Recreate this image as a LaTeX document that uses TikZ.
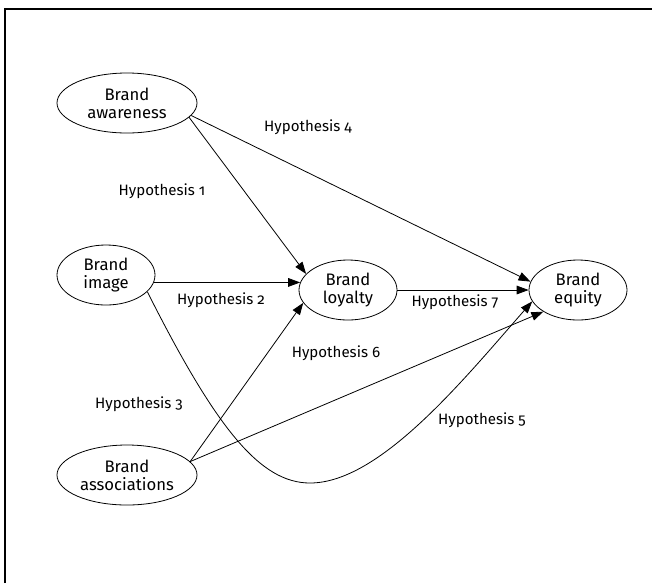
\documentclass[tikz,border=0pt]{standalone}
\usepackage{fontspec}
\setmainfont{Fira Sans}[Numbers=OldStyle]
\usetikzlibrary{shapes.geometric,arrows.meta}
\begin{document}
\begin{tikzpicture}[x=0.75pt,y=-0.75pt,
  construct/.style={draw,ellipse,line width=0.6pt,inner sep=0pt,minimum height=45pt,
    align=center,font=\fontsize{12.5}{13.3}\selectfont},
  wide/.style={construct,minimum width=105pt},
  narrow/.style={construct,minimum width=73.5pt},
  hyp/.style={font=\fontsize{11.3}{13}\selectfont,inner sep=0pt},
  link/.style={line width=0.6pt,-{Triangle[length=9pt,width=6.5pt]}},
  frameline/.style={line width=0.8pt}]
\useasboundingbox (0,0) rectangle (652,583);
\draw[frameline] (5,583) -- (5,9) -- (652,9);

\node[wide]   (aw) at (127,103) {Brand\\awareness};
\node[narrow] (im) at (106,275) {Brand\\image};
\node[narrow] (lo) at (348,290) {Brand\\loyalty};
\node[narrow] (eq) at (578,290) {Brand\\equity};
\node[wide]   (as) at (127,475) {Brand\\associations};

\node[hyp] (h4) at (308,127) {Hypothesis 4};
\node[hyp] (h1) at (162,191) {Hypothesis 1};
\node[hyp] (h2) at (221,300) {Hypothesis 2};
\node[hyp] (h7) at (455,302) {Hypothesis 7};
\node[hyp] (h6) at (336,353) {Hypothesis 6};
\node[hyp] (h3) at (139,404) {Hypothesis 3};
\node[hyp] (h5) at (482,420) {Hypothesis 5};

\draw[link] (aw.-13) -- (lo.159);
\draw[link] (aw.-11) -- (eq.170);
\draw[link] (im.-9) -- (lo.171);
\draw[link] (lo.east) -- (eq.west);
\draw[link] (as.12) -- (lo.-164);
\draw[link] (as.12) -- (eq.-148);
\coordinate (low) at (310,483);
\draw[link] (im.-22) .. controls (216,428) and (260,483) .. (low)
  .. controls (380,483) and (464,379) .. (eq.-166);
\end{tikzpicture}
\end{document}
